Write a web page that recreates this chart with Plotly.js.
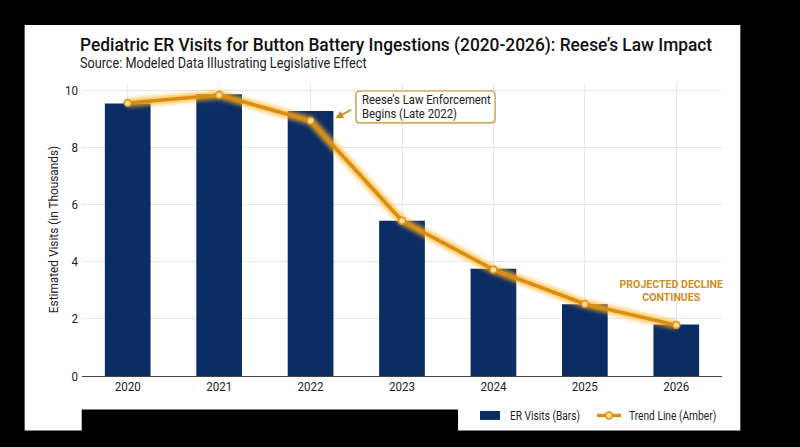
<!DOCTYPE html>
<html><head><meta charset="utf-8">
<script src="https://cdn.plot.ly/plotly-3.0.1.min.js"></script>
<style>html,body{margin:0;padding:0;background:#000;overflow:hidden}</style>
</head><body><div id="chart" style="width:800px;height:447px"></div>
<script>
const years = ['2020','2021','2022','2023','2024','2025','2026'];
const barValues = [9.53,9.86,9.27,5.43,3.75,2.51,1.8];
const trendValues = [9.55,9.83,8.93,5.43,3.72,2.52,1.78];
const yTicks = [0,2,4,6,8,10];
const titleText = 'Pediatric ER Visits for Button Battery Ingestions (2020-2026): Reese\u2019s Law Impact';
const subtitleText = 'Source: Modeled Data Illustrating Legislative Effect';
const calloutText = 'Reese\u2019s Law Enforcement<br>Begins (Late 2022)';
const projectedText = 'PROJECTED DECLINE<br>CONTINUES';
const navy='#0c2d63', amber='#d98e13', markerFill='#fbdc97', font='Roboto, sans-serif';

const W=800,H=447,L=82.3,R=721.7,T=83,B=376.5;
const px=x=>(x-L)/(R-L), py=y=>(B-y)/(B-T);
const glowTrace={x:years,y:trendValues,type:'scatter',mode:'lines',showlegend:false,hoverinfo:'skip',
  line:{color:'#ffb322',width:8,shape:'linear'},opacity:0.8};
const data=[
 {x:years,y:barValues,type:'bar',name:'ER Visits (Bars)',width:0.5,marker:{color:navy}},
 glowTrace,
 {x:years,y:trendValues,type:'scatter',mode:'lines+markers',name:'Trend Line (Amber)',
  line:{color:amber,width:3.5,shape:'linear'},
  marker:{size:7,color:markerFill,line:{color:amber,width:1.5}}}
];
function rr(x0,y0,x1,y1,r){const X0=px(x0),X1=px(x1),Y0=py(y0),Y1=py(y1),rx=r/(R-L),ry=r/(B-T);
 return `M${X0+rx},${Y0} L${X1-rx},${Y0} Q${X1},${Y0} ${X1},${Y0-ry} L${X1},${Y1+ry} Q${X1},${Y1} ${X1-rx},${Y1} L${X0+rx},${Y1} Q${X0},${Y1} ${X0},${Y1+ry} L${X0},${Y0-ry} Q${X0},${Y0} ${X0+rx},${Y0} Z`;}
const layout={
 width:W,height:H,paper_bgcolor:'#000',plot_bgcolor:'rgba(0,0,0,0)',
 margin:{l:L,r:W-R,t:T,b:H-B},font:{family:font,color:'#222',size:13},
 title:{text:titleText,font:{family:font,size:19,color:'#111',weight:500},x:80/W,xanchor:'left',y:1-44/H,yanchor:'middle',automargin:false},
 xaxis:{type:'category',range:[-0.5,6.5],tickvals:years,ticktext:years,showgrid:true,gridcolor:'#e8e8e8',gridwidth:1,
   showline:true,linecolor:'#444',linewidth:1,ticks:'',ticklabelstandoff:-2,tickfont:{size:13,color:'#222'},fixedrange:true},
 yaxis:{range:[0,10.25],tickvals:yTicks,ticktext:yTicks.map(String),showgrid:true,gridcolor:'#e6e6e6',gridwidth:1,zeroline:false,
   ticks:'',ticklabelstandoff:3,tickfont:{size:13,color:'#222'},title:{text:'Estimated Visits (in Thousands)',font:{size:13,color:'#222'},standoff:1},fixedrange:true},
 legend:{orientation:'h',x:1,xanchor:'right',y:py(416),yanchor:'middle',bgcolor:'rgba(0,0,0,0)',font:{size:12,color:'#222'},traceorder:'normal'},
 shapes:[
  {type:'rect',xref:'paper',yref:'paper',layer:'below',x0:px(25),x1:px(740),y0:py(431),y1:py(25),fillcolor:'#fff',line:{width:0}},
  {type:'rect',xref:'paper',yref:'paper',layer:'below',x0:px(82),x1:px(458),y0:py(431.5),y1:py(410),fillcolor:'#000',line:{width:0}},
  {type:'path',xref:'paper',yref:'paper',layer:'above',path:rr(356,91,495,123,4),fillcolor:'#fff',line:{color:'#c98a1e',width:1.2}}
 ],
 annotations:[
  {xref:'paper',yref:'paper',x:px(63),y:py(63),xanchor:'left',yanchor:'middle',showarrow:false,text:subtitleText,font:{size:14,color:'#222'}},
  {xref:'paper',yref:'paper',x:px(360),y:py(108),xanchor:'left',yanchor:'middle',align:'left',showarrow:false,text:calloutText,font:{size:13,color:'#222'}},
  {xref:'x',yref:'y',x:2.27,y:9.02,text:' ',showarrow:true,arrowhead:2,arrowsize:1,arrowwidth:1.6,arrowcolor:'#c98a1e',axref:'pixel',ayref:'pixel',ax:19,ay:-10,standoff:0},
  {xref:'paper',yref:'paper',x:px(671),y:py(291.5),xanchor:'center',yanchor:'middle',align:'center',showarrow:false,text:'<b>'+projectedText+'</b>',font:{size:11.5,color:'#d08d1f'}}
 ]
};
function condense(el,f){
 const lines=el.querySelectorAll('tspan.line');
 (lines.length?[...lines]:[el]).forEach(t=>{const n=t.getComputedTextLength();
   t.setAttribute('textLength',n*f);t.setAttribute('lengthAdjust','spacingAndGlyphs');});
}
function leading(el,v){el.querySelectorAll('tspan.line').forEach((t,i)=>{if(i>0)t.setAttribute('dy',v+'px');});}
Plotly.newPlot('chart',data,layout,{displayModeBar:false,staticPlot:true}).then(gd=>{
 const q=s=>[...gd.querySelectorAll(s)];
 q('.gtitle').forEach(e=>condense(e,.912));
 q('.xtick text,.ytick text').forEach(e=>condense(e,.89));
 q('.ytitle').forEach(e=>condense(e,.91));
 q('.annotation-text').forEach(e=>{const s=e.textContent;
   if(s.startsWith('Source'))condense(e,.906);
   else if(s.startsWith('Reese')){condense(e,.87);leading(e,13.5);}
   else if(s.startsWith('PROJECTED')){condense(e,.92);leading(e,13);}});
 q('.legendtext').forEach(e=>condense(e,.85));
 const tr=q('.scatterlayer .trace');
 if(tr[0])tr[0].style.filter='blur(2.2px)';
 const items=q('.legend .traces');
 const leg=gd.querySelector('.legend');const m=/translate\(([-\d.]+),\s*([-\d.]+)/.exec(leg.getAttribute('transform'));
 const lx=+m[1];
 const rows=items.map(n=>/,\s*([-\d.]+)/.exec(n.getAttribute('transform'))[1]);
 const tx=[510-40-lx,629-40-lx];
 items.forEach((n,i)=>n.setAttribute('transform',`translate(${tx[i]},${rows[i]})`));
 if(items[0]){const b=items[0].querySelector('.legendbar path, .legendbars path, .legendpoints path');
   if(b)b.setAttribute('d','M10,4.5H-10V-4.5H10Z');}
 if(items[1]){const l=items[1].querySelector('.legendlines path');
   if(l)l.setAttribute('d','M8,0h24');
   const p=items[1].querySelector('.legendpoints path');
   if(p){p.setAttribute('transform',p.getAttribute('transform').replace(/translate\([^)]*\)/,'translate(20,0)'));}}
});
</script></body></html>
